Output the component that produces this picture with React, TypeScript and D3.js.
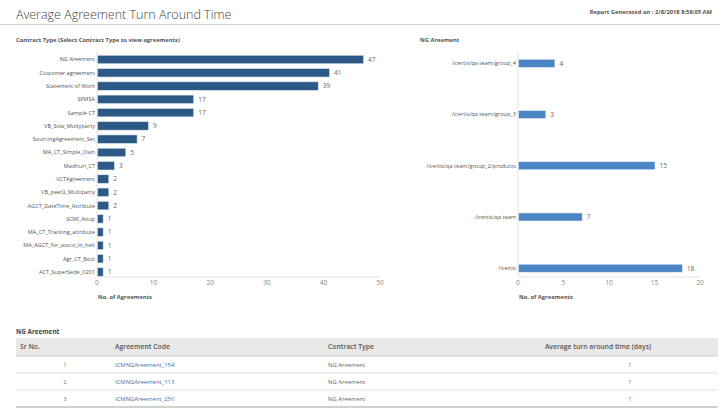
import React from 'react';
import * as d3 from 'd3';

// Contract types and agreement counts
const contractTypes = [
  'NG Areement', 'Customer agreement', 'Statement of Work', 'SFMSA', 'Sample CT',
  'VB_Sow_Multyparty', 'SourcingAgreement_Set', 'MA_CT_Simple_Own', 'Madhuri_CT',
  'VCTAgreement', 'VB_peer2_Multiparty', 'AGCT_DateTime_Attribute', 'SOW_Anup',
  'MA_CT_Tracking_attribute', 'MA_AGCT_for_assco_in_helt', 'Agr_CT_Bool', 'ACT_SuperSede_0201',
];
const contractCounts = [47, 41, 39, 17, 17, 9, 7, 5, 3, 2, 2, 2, 1, 1, 1, 1, 1];
const leftTicks = [0, 10, 20, 30, 40, 50];

// NG Areement by folder
const folders = [
  '/icertis/qa team/group_4', '/icertis/qa team/group_3', '/icertis/qa team/group_2/products',
  '/icertis/qa team', '/icertis',
];
const folderCounts = [4, 3, 15, 7, 18];
const rightTicks = [0, 5, 10, 15, 20];

// table rows
const srNos = [1, 2, 3];
const agreementCodes = ['ICMNGAreement_154', 'ICMNGAreement_113', 'ICMNGAreement_250'];
const rowContractTypes = ['NG Areement', 'NG Areement', 'NG Areement'];
const turnAround = [1, 1, 1];

const FONT = '"Open Sans", "Noto Sans", sans-serif';

const HBar: React.FC<{
  cats: string[];
  vals: number[];
  ticks: number[];
  x0: number;
  x1: number;
  yPadIn: number;
  yPadOut: number;
  color: string;
}> = ({ cats, vals, ticks, x0, x1, yPadIn, yPadOut, color }) => {
  const axisY = 277;
  const x = d3.scaleLinear().domain([0, ticks[ticks.length - 1]]).range([x0, x1]);
  const y = d3.scaleBand<string>().domain(cats).range([51, 280.5])
    .paddingInner(yPadIn).paddingOuter(yPadOut);

  return (
    <g fontFamily={FONT}>
      <line x1={x0} x2={x0} y1={51} y2={axisY} stroke="#e3e3e3" strokeWidth={1} />
      <line x1={x0} x2={x1} y1={axisY} y2={axisY} stroke="#e3e3e3" strokeWidth={1} />
      {cats.map((c, i) => (
        <g key={c}>
          <rect
            x={x(0) + 0.5}
            y={y(c)!}
            width={x(vals[i]) - x(0)}
            height={y.bandwidth()}
            fill={color}
            stroke="#dfe7f0"
            strokeWidth={0.6}
          />
          <text x={x0 - 2} y={y(c)! + y.bandwidth() / 2} dy="0.35em" textAnchor="end"
            fontSize={5.6} fill="#555">{c}</text>
          <text x={x(vals[i]) + 5} y={y(c)! + y.bandwidth() / 2} dy="0.35em"
            fontSize={6.6} fill="#666">{vals[i]}</text>
        </g>
      ))}
      {ticks.map(t => (
        <text key={t} x={x(t)} y={axisY + 8} textAnchor="middle" fontSize={6.6} fill="#888">{t}</text>
      ))}
      <text x={x0 + 1} y={299} fontSize={5.8} fontWeight={700} fill="#555">No. of Agreements</text>
    </g>
  );
};

const App: React.FC = () => {
  const W = 720;
  const H = 411;
  const cols = [20, 115, 328];
  const rowTop = [356, 373, 390];

  return (
    <svg width={W} height={H} style={{ position: 'absolute', left: 0, top: 0, background: '#fff' }}
      fontFamily={FONT}>
      <rect width={W} height={H} fill="#fff" />
      <text x={16} y={19} fontSize={12.5} fontWeight={300} fill="#444">Average Agreement Turn Around Time</text>
      <text x={712} y={14} textAnchor="end" fontSize={5.8} fontWeight={700} fill="#555">
        Report Generated on : 2/8/2018 8:58:05 AM
      </text>
      <line x1={0} x2={W} y1={24.5} y2={24.5} stroke="#d6d6d6" strokeWidth={1} />

      <text x={16} y={42} fontSize={5.8} fontWeight={700} fill="#555">
        Contract Type (Select Contract Type to view agreements)
      </text>
      <HBar cats={contractTypes} vals={contractCounts} ticks={leftTicks}
        x0={97} x1={380} yPadIn={0.36} yPadOut={0.32} color="#2d5986" />

      <text x={420} y={42} fontSize={5.8} fontWeight={700} fill="#555">NG Areement</text>
      <HBar cats={folders} vals={folderCounts} ticks={rightTicks}
        x0={518} x1={700} yPadIn={0.844} yPadOut={0.162} color="#4a86c6" />

      <text x={16} y={334} fontSize={6.4} fontWeight={700} fill="#444">NG Areement</text>
      <rect x={16} y={338} width={702} height={18} fill="#e9e9e9" />
      <line x1={16} x2={718} y1={356} y2={356} stroke="#cfcfcf" />
      <text x={cols[0]} y={347} dy="0.35em" fontSize={6.8} fontWeight={600} fill="#555">Sr No.</text>
      <text x={cols[1]} y={347} dy="0.35em" fontSize={6.8} fontWeight={600} fill="#555">Agreement Code</text>
      <text x={cols[2]} y={347} dy="0.35em" fontSize={6.8} fontWeight={600} fill="#555">Contract Type</text>
      <text x={598} y={347} dy="0.35em" textAnchor="middle" fontSize={6.8} fontWeight={600} fill="#555">
        Average turn around time (days)
      </text>
      {srNos.map((n, i) => (
        <g key={n}>
          <text x={65} y={rowTop[i] + 9} dy="0.35em" textAnchor="middle" fontSize={5.9} fill="#777">{n}</text>
          <text x={cols[1]} y={rowTop[i] + 9} dy="0.35em" fontSize={5.9} fill="#3a72b0">{agreementCodes[i]}</text>
          <text x={cols[2]} y={rowTop[i] + 9} dy="0.35em" fontSize={5.9} fill="#666">{rowContractTypes[i]}</text>
          <text x={630} y={rowTop[i] + 9} dy="0.35em" textAnchor="middle" fontSize={5.9} fill="#666">{turnAround[i]}</text>
          <line x1={16} x2={718} y1={rowTop[i] + 17} y2={rowTop[i] + 17}
            stroke={i === srNos.length - 1 ? '#d0d0d0' : '#dedede'} strokeWidth={i === srNos.length - 1 ? 2 : 1} />
        </g>
      ))}
    </svg>
  );
};

export default App;
